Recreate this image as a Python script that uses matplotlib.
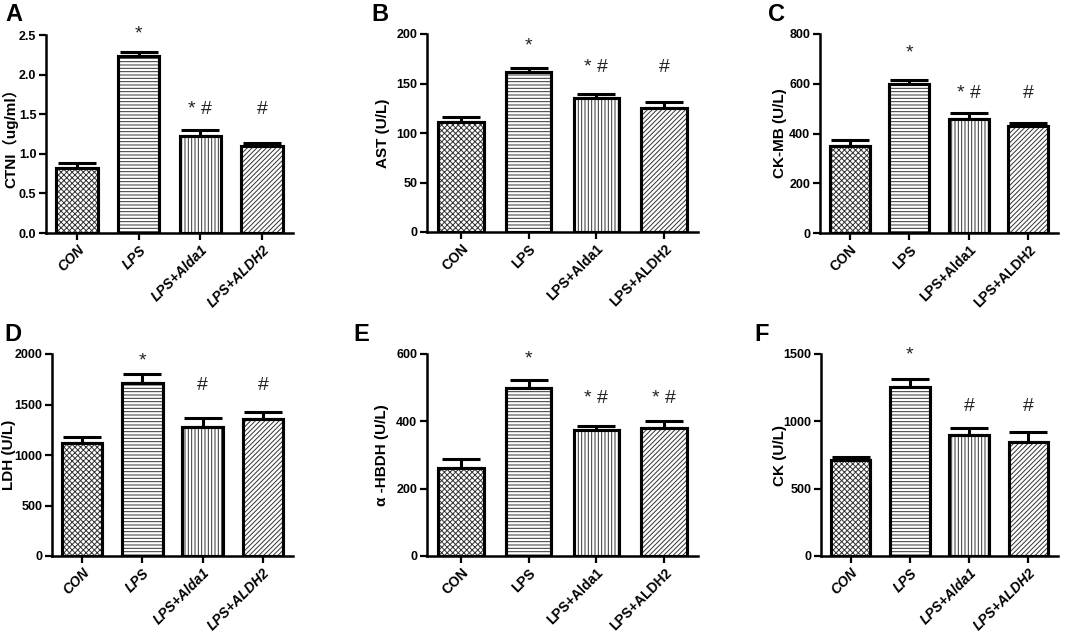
import matplotlib
matplotlib.use('Agg')
import matplotlib.pyplot as plt

# groups on the x axis
groups = ['CON', 'LPS', 'LPS+Alda1', 'LPS+ALDH2']
hatches = ['xxxxxx', '-----', '|||||', '///////']

# panel data: means and (upper) error bars
ctni = [0.82, 2.23, 1.23, 1.10]
ctni_err = [0.07, 0.05, 0.07, 0.04]
ast = [111, 162, 135, 125]
ast_err = [5, 4, 4, 6]
ckmb = [350, 600, 460, 430]
ckmb_err = [23, 14, 21, 13]
ldh = [1120, 1715, 1280, 1360]
ldh_err = [58, 88, 88, 62]
hbdh = [260, 500, 373, 380]
hbdh_err = [28, 24, 13, 20]
ck = [712, 1255, 900, 848]
ck_err = [25, 60, 50, 70]

# significance marks and their heights
marks_a = ['', '*', '* #', '#']
marks_a_y = [0, 2.40, 1.45, 1.45]
marks_b = ['', '*', '* #', '#']
marks_b_y = [0, 179, 158, 158]
marks_c = ['', '*', '* #', '#']
marks_c_y = [0, 691, 527, 527]
marks_d = ['', '*', '#', '#']
marks_d_y = [0, 1851, 1604, 1604]
marks_e = ['', '*', '* #', '* #']
marks_e_y = [0, 561, 443, 443]
marks_f = ['', '*', '#', '#']
marks_f_y = [0, 1426, 1047, 1047]

plt.rcParams['hatch.linewidth'] = 0.7
plt.rcParams['font.family'] = ['Liberation Sans', 'Noto Sans CJK SC', 'DejaVu Sans']

W, H = 1065, 643
fig = plt.figure(figsize=(W / 100, H / 100), dpi=100)


def make_axes(left, right, top, bottom):
    return fig.add_axes([left / W, 1 - bottom / H, (right - left) / W, (bottom - top) / H])


def panel(ax, vals, errs, marks, marks_y, ymax, step, ylabel, letter, letter_xy,
          ylabel_x, italic=False, fmt='{:.0f}'):
    x = list(range(len(groups)))
    ax.bar(x, vals, width=0.67, color='white', edgecolor='black', linewidth=2.2, zorder=3)
    for i, h in enumerate(hatches):
        ax.bar(x[i], vals[i], width=0.67, color='none', edgecolor='#333333',
               linewidth=0, hatch=h, zorder=3)
    ax.bar(x, vals, width=0.67, color='none', edgecolor='black', linewidth=2.2, zorder=4)
    ax.errorbar(x, vals, yerr=[[0] * len(vals), errs], fmt='none', ecolor='black',
                elinewidth=2.2, capsize=14, capthick=2.2, zorder=2)
    for i, m in enumerate(marks):
        if m:
            ax.text(x[i], marks_y[i], m, ha='center', va='bottom', fontsize=14,
                    color='#222222')
    ax.set_xlim(-0.5, 3.5)
    ax.set_ylim(0, ymax)
    ticks = [k * step for k in range(int(round(ymax / step)) + 1)]
    ax.set_yticks(ticks)
    ax.set_yticklabels([fmt.format(t) for t in ticks], fontsize=9, fontweight='bold')
    ax.set_xticks(x)
    ax.set_xticklabels(groups, rotation=45, ha='right', rotation_mode='anchor',
                       fontsize=10, fontweight='bold',
                       fontstyle='italic' if italic else 'normal')
    for s in ['top', 'right']:
        ax.spines[s].set_visible(False)
    for s in ['left', 'bottom']:
        ax.spines[s].set_linewidth(1.8)
    ax.tick_params(axis='both', direction='out', length=5, width=1.6, pad=2)
    ax.set_ylabel(ylabel, fontsize=11, fontweight='bold', va='center')
    bb = ax.get_position()
    ax.yaxis.set_label_coords((ylabel_x / W - bb.x0) / bb.width, 0.5)
    fig.text(letter_xy[0] / W, 1 - letter_xy[1] / H, letter, fontsize=17,
             fontweight='bold', ha='left', va='top')


axA = make_axes(46, 293, 35, 233)
axB = make_axes(427, 698, 34, 232)
axC = make_axes(820, 1058, 34, 233)
axD = make_axes(52, 293, 354, 556)
axE = make_axes(427, 698, 354, 556)
axF = make_axes(821, 1058, 354, 556)

panel(axA, ctni, ctni_err, marks_a, marks_a_y, 2.5, 0.5, 'CTNI（ug/ml）', 'A', (5, 3),
      10, italic=True, fmt='{:.1f}')
panel(axB, ast, ast_err, marks_b, marks_b_y, 200, 50, 'AST (U/L)', 'B', (371, 3), 383)
panel(axC, ckmb, ckmb_err, marks_c, marks_c_y, 800, 200, 'CK-MB (U/L)', 'C', (768, 3), 780)
panel(axD, ldh, ldh_err, marks_d, marks_d_y, 2000, 500, 'LDH (U/L)', 'D', (4, 323), 9,
      italic=True)
panel(axE, hbdh, hbdh_err, marks_e, marks_e_y, 600, 200, 'α -HBDH (U/L)', 'E', (353, 323), 382)
panel(axF, ck, ck_err, marks_f, marks_f_y, 1500, 500, 'CK (U/L)', 'F', (754, 323), 780,
      italic=True)

fig.savefig('out.png', dpi=100)
